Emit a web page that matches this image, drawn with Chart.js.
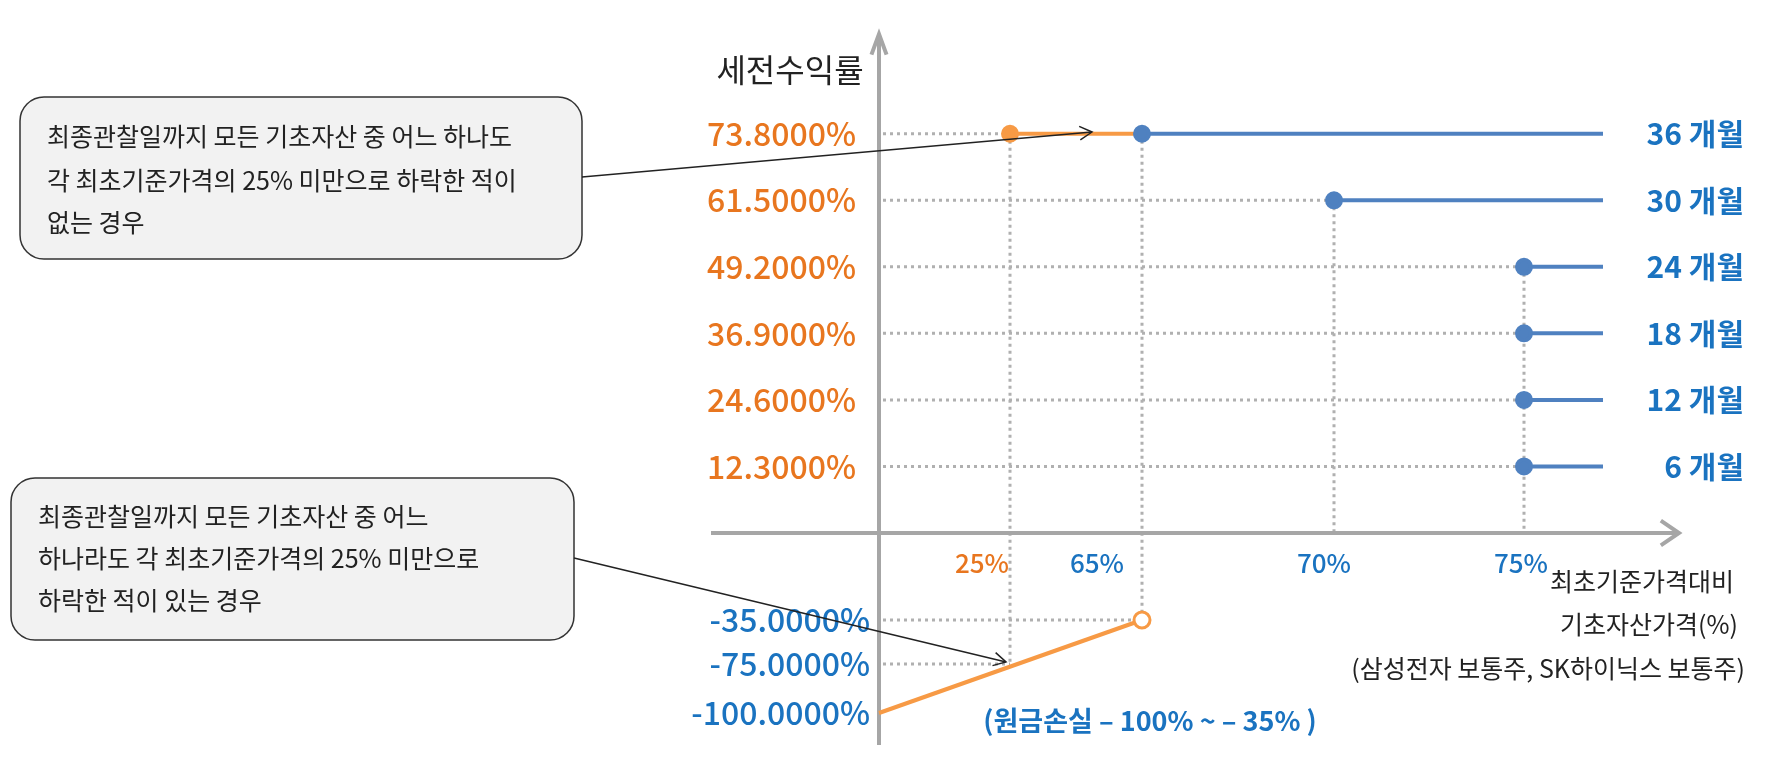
<!DOCTYPE html>
<html>
<head>
<meta charset="utf-8">
<script src="https://cdn.jsdelivr.net/npm/chart.js@4.4.1/dist/chart.umd.min.js"></script>
<style>
  html, body { margin: 0; padding: 0; background: #fff; }
  canvas { display: block; }
</style>
</head>
<body>
<canvas id="c" width="1774" height="770"></canvas>
<script>
// ---- data ----
const periods = ["36 개월", "30 개월", "24 개월", "18 개월", "12 개월", "6 개월"];
const coupons = [73.8, 61.5, 49.2, 36.9, 24.6, 12.3];
const barriers = [65, 70, 75, 75, 75, 75];
const xTicks = [25, 65, 70, 75];
const kiBarrier = 25;
const lossLevels = [-35, -75, -100];
const lossLine = [[0, -100], [65, -35]];
const xEnd = 100;

// ---- broken axis transforms (pct -> axis units, 1 unit = 1px) ----
const X_ANCHORS = [[0, 0], [25, 131], [65, 263], [70, 455], [75, 645], [100, 724]];
const Y_ANCHORS = [[-100, -180], [-75, -131], [-35, -87], [0, 0], [100, 541]];
function interp(anchors, v) {
  for (let i = 0; i < anchors.length - 1; i++) {
    const [a0, b0] = anchors[i], [a1, b1] = anchors[i + 1];
    if (v >= a0 && v <= a1) return b0 + (v - a0) * (b1 - b0) / (a1 - a0);
  }
  return anchors[anchors.length - 1][1];
}
const px = (v) => interp(X_ANCHORS, v);
const py = (v) => interp(Y_ANCHORS, v);

const BLUE = "#4f81c0", ORANGE = "#f79a45";
const T_ORANGE = "#e8761f", T_BLUE = "#1a73c0", GREY = "#a6a6a6";
const FONT = '"Noto Sans CJK KR", "Noto Sans", sans-serif';

const datasets = [];
coupons.forEach((c, i) => {
  datasets.push({
    data: [{ x: px(barriers[i]), y: py(c) }, { x: px(xEnd), y: py(c) }],
    borderColor: BLUE, backgroundColor: BLUE, borderWidth: 4,
    pointRadius: [7, 0], showLine: true,
  });
});
datasets.push({
  data: [{ x: px(kiBarrier), y: py(coupons[0]) }, { x: px(barriers[0]), y: py(coupons[0]) }],
  borderColor: ORANGE, backgroundColor: ORANGE, borderWidth: 4,
  pointRadius: [7, 0], showLine: true,
});
datasets.push({
  data: lossLine.map(([x, y]) => ({ x: px(x), y: py(y) })),
  borderColor: ORANGE, borderWidth: 4, showLine: true,
  pointRadius: [0, 8], pointBackgroundColor: "#fff", pointBorderColor: ORANGE, pointBorderWidth: 3,
});

function arrowHead(ctx, x, y, ang, len, spread) {
  ctx.beginPath();
  ctx.moveTo(x - len * Math.cos(ang - spread), y - len * Math.sin(ang - spread));
  ctx.lineTo(x, y);
  ctx.lineTo(x - len * Math.cos(ang + spread), y - len * Math.sin(ang + spread));
  ctx.stroke();
}
function roundRect(ctx, x, y, w, h, r) {
  ctx.beginPath();
  ctx.moveTo(x + r, y);
  ctx.arcTo(x + w, y, x + w, y + h, r);
  ctx.arcTo(x + w, y + h, x, y + h, r);
  ctx.arcTo(x, y + h, x, y, r);
  ctx.arcTo(x, y, x + w, y, r);
  ctx.closePath();
}

const decor = {
  id: "decor",
  beforeDatasetsDraw(chart) {
    const { ctx, scales: { x, y } } = chart;
    const X = (v) => x.getPixelForValue(px(v));
    const Y = (v) => y.getPixelForValue(py(v));
    ctx.save();
    // dotted guides
    ctx.strokeStyle = "#b0b0b0"; ctx.lineWidth = 3; ctx.setLineDash([3, 4]);
    const dl = (x1, y1, x2, y2) => { ctx.beginPath(); ctx.moveTo(x1, y1); ctx.lineTo(x2, y2); ctx.stroke(); };
    coupons.forEach((c, i) => {
      const start = i === 0 ? kiBarrier : barriers[i];
      dl(X(0) + 4, Y(c), X(start), Y(c));
    });
    dl(X(0) + 4, Y(-35), X(65), Y(-35));
    dl(X(0) + 4, Y(-75), X(25), Y(-75));
    dl(X(25), Y(coupons[0]), X(25), Y(-75));
    dl(X(65), Y(coupons[0]), X(65), Y(-35));
    dl(X(70), Y(coupons[1]), X(70), Y(0));
    dl(X(75), Y(coupons[2]), X(75), Y(0));
    ctx.setLineDash([]);
    // axes
    ctx.strokeStyle = GREY; ctx.lineWidth = 4;
    const x0 = X(0), y0 = Y(0);
    dl(x0, chart.chartArea.bottom, x0, chart.chartArea.top);
    dl(chart.chartArea.left, y0, chart.chartArea.right, y0);
    arrowHead(ctx, x0, chart.chartArea.top, -Math.PI / 2, 22, 0.35);
    arrowHead(ctx, chart.chartArea.right, y0, 0, 22, 0.6);
    ctx.restore();
  },
  afterDatasetsDraw(chart) {
    const { ctx, scales: { x, y } } = chart;
    const X = (v) => x.getPixelForValue(px(v));
    const Y = (v) => y.getPixelForValue(py(v));
    ctx.save();
    ctx.textBaseline = "middle";
    // y labels
    ctx.font = `500 32px ${FONT}`; ctx.textAlign = "right";
    coupons.forEach((c) => { ctx.fillStyle = T_ORANGE; ctx.fillText(c.toFixed(4) + "%", 856, Y(c)); });
    lossLevels.forEach((l) => { ctx.fillStyle = T_BLUE; ctx.fillText(l.toFixed(4) + "%", 870, Y(l)); });
    // period labels
    ctx.font = `bold 30px ${FONT}`; ctx.fillStyle = T_BLUE;
    periods.forEach((p, i) => ctx.fillText(p, 1744, Y(coupons[i])));
    // x labels
    ctx.font = `500 26px ${FONT}`; ctx.textAlign = "center";
    const xOff = [-28, -45, -10, -3];
    xTicks.forEach((t, i) => {
      ctx.fillStyle = i === 0 ? T_ORANGE : T_BLUE;
      ctx.fillText(t + "%", X(t) + xOff[i], 563);
    });
    // axis titles
    ctx.fillStyle = "#222"; ctx.font = `32px ${FONT}`;
    ctx.fillText("세전수익률", 790, 70);
    ctx.font = `25px ${FONT}`; ctx.textAlign = "right";
    ctx.fillText("최초기준가격대비", 1734, 581);
    ctx.fillText("기초자산가격(%)", 1738, 624);
    ctx.fillText("(삼성전자 보통주, SK하이닉스 보통주)", 1745, 668);
    ctx.font = `bold 27px ${FONT}`; ctx.fillStyle = T_BLUE; ctx.textAlign = "center";
    ctx.fillText("(원금손실 – 100% ~ – 35% )", 1150, 721);
    // callouts
    const boxes = [
      { x: 20, y: 97, w: 562, h: 162, lines: ["최종관찰일까지 모든 기초자산 중 어느 하나도", "각 최초기준가격의 25% 미만으로 하락한 적이", "없는 경우"], ly: [136, 180, 222], from: [582, 177], to: [1092, 132] },
      { x: 11, y: 478, w: 563, h: 162, lines: ["최종관찰일까지 모든 기초자산 중 어느", "하나라도 각 최초기준가격의 25% 미만으로", "하락한 적이 있는 경우"], ly: [516, 558, 600], from: [574, 558], to: [1006, 662] },
    ];
    boxes.forEach((b) => {
      ctx.fillStyle = "#f2f2f2"; ctx.strokeStyle = "#333"; ctx.lineWidth = 1.5;
      roundRect(ctx, b.x, b.y, b.w, b.h, 24); ctx.fill(); ctx.stroke();
      ctx.fillStyle = "#222"; ctx.font = `25px ${FONT}`; ctx.textAlign = "left";
      b.lines.forEach((l, i) => ctx.fillText(l, b.x + 27, b.ly[i]));
      ctx.strokeStyle = "#222"; ctx.lineWidth = 1.5;
      ctx.beginPath(); ctx.moveTo(...b.from); ctx.lineTo(...b.to); ctx.stroke();
      const ang = Math.atan2(b.to[1] - b.from[1], b.to[0] - b.from[0]);
      arrowHead(ctx, b.to[0], b.to[1], ang, 14, 0.5);
    });
    ctx.restore();
  },
};

new Chart(document.getElementById("c"), {
  type: "scatter",
  data: { datasets },
  options: {
    responsive: false, animation: false, devicePixelRatio: 1,
    layout: { padding: { left: 711, right: 95, top: 34, bottom: 25 } },
    plugins: { legend: { display: false }, tooltip: { enabled: false } },
    scales: {
      x: { type: "linear", min: -168, max: 800, display: false },
      y: { type: "linear", min: -212, max: 499, display: false },
    },
  },
  plugins: [decor],
});
</script>
</body>
</html>
